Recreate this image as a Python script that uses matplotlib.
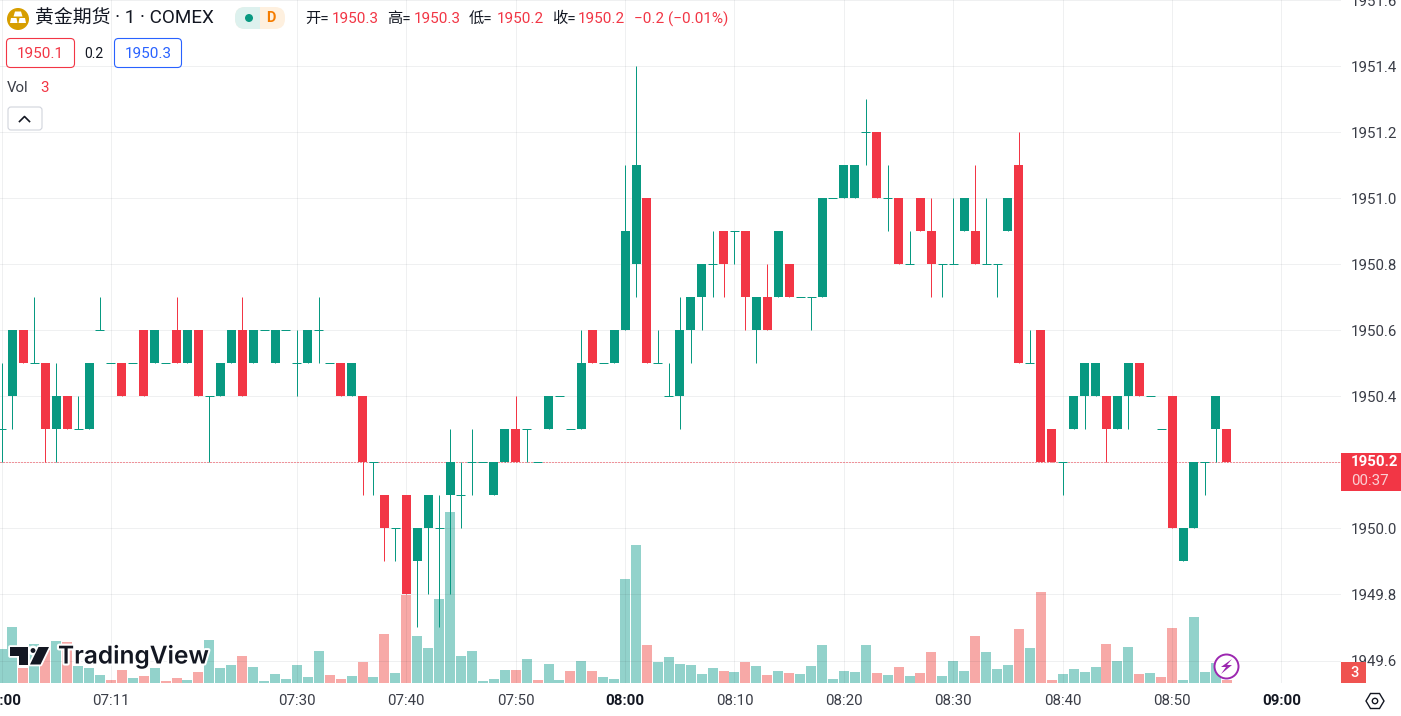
import matplotlib
matplotlib.use("Agg")
import matplotlib.pyplot as plt
from matplotlib.patches import Circle, FancyBboxPatch, Polygon, Rectangle
import matplotlib.patheffects as pe

W, H = 1401, 716
UI_FONT = ['Roboto', 'Noto Sans CJK SC', 'DejaVu Sans']
plt.rcParams['font.family'] = UI_FONT
plt.rcParams['axes.unicode_minus'] = False

UP = '#089981'; DOWN = '#F23645'; GRID = '#2A2E39'; INK = '#131722'; AXTXT = '#3A3D47'

opens = [1950.3,1950.4,1950.6,1950.5,1950.5,1950.3,1950.4,1950.3,1950.3,1950.6,
 1950.5,1950.5,1950.5,1950.6,1950.5,1950.5,1950.6,1950.5,1950.6,1950.4,
 1950.4,1950.5,1950.6,1950.5,1950.6,1950.5,1950.6,1950.5,1950.5,1950.6,
 1950.5,1950.5,1950.4,1950.4,1950.2,1950.1,1950.0,1950.1,1949.9,1950.0,
 1950.0,1950.1,1950.1,1950.2,1950.2,1950.1,1950.2,1950.3,1950.3,1950.2,
 1950.3,1950.4,1950.3,1950.3,1950.6,1950.5,1950.5,1950.6,1950.8,1951.0,
 1950.5,1950.4,1950.4,1950.6,1950.7,1950.8,1950.9,1950.9,1950.9,1950.6,
 1950.7,1950.7,1950.8,1950.7,1950.7,1950.7,1951.0,1951.0,1951.0,1951.2,
 1951.2,1951.0,1951.0,1950.8,1951.0,1950.9,1950.8,1950.8,1950.9,1950.9,
 1950.8,1950.8,1950.9,1951.1,1950.5,1950.6,1950.3,1950.2,1950.3,1950.4,
 1950.4,1950.4,1950.3,1950.4,1950.5,1950.4,1950.3,1950.4,1949.9,1950.0,
 1950.2,1950.3,1950.3]
highs = [1950.5,1950.6,1950.6,1950.7,1950.5,1950.5,1950.4,1950.4,1950.5,1950.7,
 1950.5,1950.5,1950.5,1950.6,1950.6,1950.5,1950.7,1950.6,1950.6,1950.4,
 1950.5,1950.6,1950.7,1950.6,1950.6,1950.6,1950.6,1950.6,1950.6,1950.7,
 1950.5,1950.5,1950.5,1950.4,1950.2,1950.1,1950.0,1950.1,1950.0,1950.1,
 1950.1,1950.3,1950.2,1950.3,1950.2,1950.2,1950.3,1950.4,1950.3,1950.2,
 1950.4,1950.4,1950.3,1950.6,1950.6,1950.5,1950.6,1951.1,1951.4,1951.0,
 1950.6,1950.5,1950.7,1950.7,1950.8,1950.9,1950.9,1950.9,1950.9,1950.7,
 1950.8,1950.9,1950.8,1950.7,1950.7,1951.0,1951.0,1951.1,1951.1,1951.3,
 1951.2,1951.1,1951.0,1950.9,1951.0,1951.0,1950.8,1951.0,1951.0,1951.1,
 1951.0,1950.8,1951.0,1951.2,1950.6,1950.6,1950.3,1950.2,1950.4,1950.5,
 1950.5,1950.4,1950.4,1950.5,1950.5,1950.4,1950.3,1950.4,1950.0,1950.2,
 1950.2,1950.4,1950.3]
lows = [1950.2,1950.3,1950.5,1950.5,1950.2,1950.2,1950.3,1950.3,1950.3,1950.6,
 1950.5,1950.4,1950.5,1950.4,1950.5,1950.5,1950.5,1950.5,1950.4,1950.2,
 1950.4,1950.5,1950.4,1950.5,1950.6,1950.5,1950.6,1950.4,1950.5,1950.5,
 1950.5,1950.4,1950.4,1950.1,1950.1,1949.9,1949.9,1949.8,1949.7,1949.8,
 1949.7,1949.8,1950.0,1950.1,1950.2,1950.1,1950.2,1950.2,1950.2,1950.2,
 1950.3,1950.4,1950.3,1950.3,1950.5,1950.5,1950.5,1950.6,1950.7,1950.5,
 1950.5,1950.4,1950.3,1950.5,1950.6,1950.7,1950.7,1950.8,1950.6,1950.5,
 1950.6,1950.7,1950.7,1950.7,1950.6,1950.7,1951.0,1951.0,1951.0,1951.1,
 1951.0,1950.9,1950.8,1950.8,1950.9,1950.7,1950.7,1950.8,1950.9,1950.8,
 1950.8,1950.7,1950.9,1950.5,1950.5,1950.2,1950.2,1950.1,1950.3,1950.3,
 1950.4,1950.2,1950.3,1950.3,1950.4,1950.4,1950.3,1950.0,1949.9,1950.0,
 1950.1,1950.2,1950.2]
closes = [1950.3,1950.6,1950.5,1950.5,1950.3,1950.4,1950.3,1950.3,1950.5,1950.6,
 1950.5,1950.4,1950.5,1950.4,1950.6,1950.5,1950.5,1950.6,1950.4,1950.4,
 1950.5,1950.6,1950.4,1950.6,1950.6,1950.6,1950.6,1950.5,1950.6,1950.6,
 1950.5,1950.4,1950.5,1950.2,1950.2,1950.0,1950.0,1949.8,1950.0,1950.1,
 1950.0,1950.2,1950.1,1950.2,1950.2,1950.2,1950.3,1950.2,1950.3,1950.2,
 1950.4,1950.4,1950.3,1950.5,1950.5,1950.5,1950.6,1950.9,1951.1,1950.5,
 1950.5,1950.4,1950.6,1950.7,1950.8,1950.8,1950.8,1950.9,1950.7,1950.7,
 1950.6,1950.9,1950.7,1950.7,1950.7,1951.0,1951.0,1951.1,1951.1,1951.2,
 1951.0,1951.0,1950.8,1950.8,1950.9,1950.8,1950.8,1950.8,1951.0,1950.8,
 1950.8,1950.8,1951.0,1950.5,1950.5,1950.2,1950.2,1950.2,1950.4,1950.5,
 1950.5,1950.3,1950.4,1950.5,1950.4,1950.4,1950.3,1950.0,1950.0,1950.2,
 1950.2,1950.4,1950.2]
volumes = [34,56,15,39,33,42,41,17,15,8,3,13,5,7,15,2,5,3,11,43,15,18,27,16,2,9,4,18,6,32,
 8,4,7,21,6,49,10,88,47,35,84,171,27,32,2,4,13,13,24,3,19,3,12,22,12,6,4,104,138,38,
 21,26,19,18,9,15,12,11,21,17,8,12,10,9,17,38,4,12,11,38,10,8,16,7,10,31,7,22,12,47,
 31,14,18,54,35,91,3,9,14,11,16,39,22,36,9,10,6,55,3,66,11,20,3]
volume_down = {2,4,6,10,11,13,15,16,18,22,30,31,33,35,37,47,49,52,54,59,66,68,70,72,80,82,84,85,
               89,93,95,96,101,104,106,107,112}
tick_index = [0,10,27,37,47,57,67,77,87,97,107,117]
tick_label = ['07:00','07:11','07:30','07:40','07:50','08:00','08:10','08:20','08:30','08:40','08:50','09:00']
bold_ticks = {'07:00','08:00','09:00'}
price_ticks = [1949.6,1949.8,1950.0,1950.2,1950.4,1950.6,1950.8,1951.0,1951.2,1951.4,1951.6]
last_price = 1950.2

fig = plt.figure(figsize=(W/100, H/100), dpi=100, facecolor='white')
chart_rect = [0, 1-683/H, 1341/W, 683/H]
ax_vol = fig.add_axes(chart_rect, zorder=1)
ax = fig.add_axes(chart_rect, zorder=2, sharex=ax_vol)
ax.patch.set_visible(False)
SP = 10.94
xlim = (-1.5/SP, (1341-1.5)/SP)
ax_vol.set_xlim(*xlim)
ax_vol.set_ylim(0, 683)
ax_vol.axis('off')
ax.set_ylim(1949.6-22.5/330.3, 1951.4+66/330.3)

# volume
idx = list(range(len(volumes)))
vcol = ['#F7A9A7' if i in volume_down else '#92D2CB' for i in idx]
ax_vol.bar(idx, volumes, width=10/SP, color=vcol, linewidth=0)

# candles
px = 72/100
for i, (o, h, l, c) in enumerate(zip(opens, highs, lows, closes)):
    col = UP if c >= o else DOWN
    if h > l:
        ax.vlines(i, l, h, color=col, lw=1*px, zorder=3)
    if c == o:
        ax.hlines(o, i-4.5/SP, i+4.5/SP, color=col, lw=1*px, zorder=3)
    else:
        ax.bar(i, abs(c-o), bottom=min(o, c), width=9/SP, color=col, linewidth=0, zorder=3)

ax.axhline(last_price, color=DOWN, lw=0.72, ls=(0, (1, 2)), zorder=2.8)

ax.set_axisbelow(True)
ax.grid(True, color=GRID, alpha=0.07, lw=1*px)
for s in ax.spines.values():
    s.set_visible(False)
ax.yaxis.tick_right()
ax.set_yticks(price_ticks)
ax.set_yticklabels([f'{p:.1f}' for p in price_ticks], fontsize=10.8, color=AXTXT)
ax.tick_params(axis='y', length=0, pad=7)
ax.set_xticks(tick_index)
ax.set_xticklabels(tick_label, fontsize=10.8, color=AXTXT)
ax.tick_params(axis='x', length=0, pad=8)
for t in ax.get_xticklabels():
    if t.get_text() in bold_ticks:
        t.set_fontweight('bold'); t.set_color(INK)

# overlay chrome in pixel coordinates
ov = fig.add_axes([0, 0, 1, 1], zorder=5)
ov.set_xlim(0, W); ov.set_ylim(H, 0); ov.axis('off'); ov.patch.set_visible(False)

def T(x, y, s, size=10, color=INK, ha='left', va='center', **kw):
    return ov.text(x, y, s, fontsize=size, color=color, ha=ha, va=va, **kw)

# price labels
ov.add_patch(Rectangle((1341, 452.5), 60, 38.5, fc=DOWN, lw=0))
T(1351, 462.5, '1950.2', 10.8, 'white', fontweight='bold')
T(1351, 481, '00:37', 10.8, '#FBD0D4')
ov.add_patch(Rectangle((1341, 662), 25, 21, fc='#EF5350', lw=0))
T(1355, 673, '3', 10.5, 'white', ha='center', fontweight='medium')

# symbol icon
ov.add_patch(Circle((18, 19), 11, fc='#D79E00', lw=0))
for pts in ([(15, 11.5), (21, 11.5), (22.5, 16.5), (13.5, 16.5)], [(11, 18), (16.5, 18), (17.5, 23), (10, 23)], [(19.5, 18), (25, 18), (26, 23), (18.5, 23)]):
    ov.add_patch(Polygon(pts, fc='white', lw=0))
T(35, 18.5, '黄金期货 · 1 · COMEX', 13.6)

# pill
ov.add_patch(FancyBboxPatch((235+10, 7+10), 30, 2, boxstyle='round,pad=10,rounding_size=10', fc='#FEF0DF', lw=0, mutation_aspect=1))
left = FancyBboxPatch((235+10, 7+10), 30, 2, boxstyle='round,pad=10,rounding_size=10', fc='#DDF1EE', lw=0)
ov.add_patch(left)
left.set_clip_path(Rectangle((235, 0), 25, 40, transform=ov.transData))
ov.add_patch(Circle((249, 18), 4, fc=UP, lw=0))
T(271, 18.5, 'D', 10.5, '#F57C00', ha='center', fontweight='bold')

# OHLC legend
items = [(305, '开=', INK), (332, '1950.3', DOWN), (387, '高=', INK), (414, '1950.3', DOWN),
         (469, '低=', INK), (497, '1950.2', DOWN), (552, '收=', INK), (578, '1950.2', DOWN),
         (634, '−0.2 (−0.01%)', DOWN)]
for x, s, c in items:
    T(x, 19, s, 11, c)

# bid / ask
for x0, x1, col, s in ((6.5, 74.5, DOWN, '1950.1'), (114.5, 181.5, '#2962FF', '1950.3')):
    ov.add_patch(FancyBboxPatch((x0+3, 41.5), x1-x0-6, 23, boxstyle='round,pad=3,rounding_size=4', fc='white', ec=col, lw=0.8))
    T((x0+x1)/2, 53.5, s, 11, col, ha='center')
T(94, 53.5, '0.2', 10, INK, ha='center')

# volume legend
T(7, 88.5, 'Vol', 10.8, AXTXT)
T(40, 88.5, '3', 10.8, DOWN)
ov.add_patch(FancyBboxPatch((11, 110), 28, 17, boxstyle='round,pad=3,rounding_size=3', fc='white', ec='#D1D4DC', lw=0.8))
ov.plot([19.5, 24.5, 29.5], [121.5, 116.5, 121.5], color=INK, lw=1.2)

# TradingView logo
logo_t = [(10, 647), (27.5, 647), (27.5, 664.5), (18.5, 664.5), (18.5, 655.5), (10, 655.5)]
logo_s = [(38.5, 647), (49, 647), (40.5, 664.5), (30, 664.5)]
for pts in (logo_t, logo_s):
    ov.add_patch(Polygon(pts, fc='white', ec='white', lw=2.6, joinstyle='round', zorder=3))
ov.add_patch(Circle((33, 650.5), 3.7, fc=INK, ec='white', lw=1.8, zorder=3.1))
for pts in (logo_t, logo_s):
    ov.add_patch(Polygon(pts, fc=INK, lw=0, zorder=3.2))
halo = [pe.withStroke(linewidth=3.0, foreground='white')]
T(58, 656, 'TradingView', 17.6, INK, fontfamily='Inter', fontweight='semibold', path_effects=halo, zorder=3)

# bolt
ov.add_patch(Circle((1226.5, 666.5), 12, fc='white', ec='#9C27B0', lw=1.4))
ov.add_patch(Polygon([(1232, 659), (1221, 667), (1226, 667), (1221, 674), (1232, 665), (1227, 665)], fc='#9C27B0', lw=0))

# settings hexagon
ov.add_patch(Polygon([(1366, 701), (1370.5, 693.5), (1379.5, 693.5), (1384, 701), (1379.5, 708.5), (1370.5, 708.5)], fc='none', ec=INK, lw=1.0))
ov.add_patch(Circle((1375, 701), 2.7, fc='none', ec=INK, lw=1.0))

fig.savefig('out.png', dpi=100, facecolor='white')
